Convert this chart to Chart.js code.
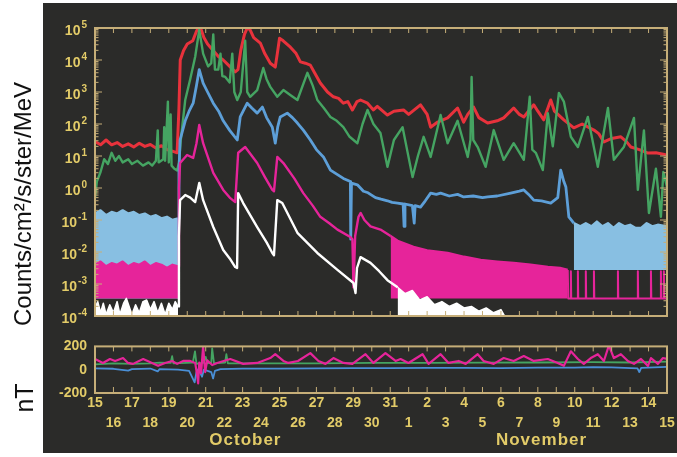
<!DOCTYPE html>
<html>
<head>
<meta charset="utf-8">
<script src="https://cdn.jsdelivr.net/npm/chart.js@4.4.1/dist/chart.umd.min.js"></script>
<style>
  html, body { margin: 0; padding: 0; background: #fff; }
  #page { position: relative; width: 677px; height: 457px; overflow: hidden; }
  #panel { position: absolute; left: 43px; top: 3px; width: 634px; height: 450px; background: #2b2b29; }
  #top { position: absolute; left: 0; top: 0; }
  #bottom { position: absolute; left: 0; top: 330px; }
</style>
</head>
<body>
<div id="page">
  <div id="panel"></div>
  <canvas id="top" width="677" height="330"></canvas>
  <canvas id="bottom" width="677" height="127"></canvas>
</div>
<script>
// x = days after 15 October 00:00, y = log10 of counts/cm2/s/ster/MeV
const redExp = [[0,1.45],[0.3,1.35],[0.6,1.5],[0.9,1.35],[1.2,1.42],[1.5,1.3],[1.8,1.38],[2.1,1.28],[2.4,1.4],[2.7,1.3],[3.0,1.36],[3.3,1.25],[3.6,1.32],[3.9,1.2],[4.2,1.15],[4.45,1.1],[4.55,2.5],[4.62,4.0],[4.8,4.3],[5.0,4.5],[5.3,4.6],[5.5,4.9],[5.6,5.0],[5.75,4.95],[5.9,4.7],[6.1,4.5],[6.4,4.3],[6.7,4.1],[6.95,4.0],[7.3,3.8],[7.6,3.63],[7.75,3.7],[7.9,4.3],[8.1,4.8],[8.25,5.0],[8.4,4.95],[8.6,4.7],[8.96,4.53],[9.2,4.2],[9.5,3.9],[9.77,3.78],[9.88,4.2],[10.0,4.68],[10.2,4.6],[10.59,4.4],[10.9,4.2],[11.13,3.94],[11.4,3.9],[11.67,3.84],[11.9,3.6],[12.21,3.28],[12.6,3.0],[12.92,2.85],[13.2,2.8],[13.46,2.65],[13.7,2.7],[13.95,2.44],[14.2,2.7],[14.39,2.75],[14.77,2.65],[15.09,2.44],[15.3,2.55],[15.85,2.28],[16.2,2.4],[16.72,2.44],[17.0,2.3],[17.64,2.6],[18.0,2.3],[18.19,1.9],[18.57,2.06],[19.11,2.19],[19.65,2.5],[19.98,2.06],[20.2,2.3],[20.52,2.53],[20.8,2.2],[21.28,2.03],[21.8,2.1],[22.15,2.19],[22.69,2.5],[23.0,2.3],[23.24,2.22],[23.78,2.6],[24.0,2.4],[24.32,2.13],[24.7,2.75],[24.9,2.4],[25.41,2.13],[25.95,1.88],[26.4,2.0],[27.04,1.81],[27.3,1.7],[27.58,1.44],[28.0,1.55],[28.5,1.6],[28.8,1.45],[29.04,1.28],[29.5,1.2],[29.97,1.09],[30.4,1.1],[31,1.03]];

const greenExp = [[0,-0.3],[0.1,0.2],[0.3,0.5],[0.5,0.9],[0.7,0.75],[0.9,1.1],[1.1,0.85],[1.3,1.0],[1.5,0.8],[1.8,0.9],[2.0,0.75],[2.3,0.85],[2.6,0.7],[2.9,0.8],[3.1,0.7],[3.3,0.85],[3.4,1.8],[3.45,0.8],[3.7,0.9],[3.75,1.9],[3.8,0.85],[3.95,2.7],[4.0,0.8],[4.1,2.3],[4.15,0.7],[4.3,0.6],[4.45,0.55],[4.55,0.8],[4.65,1.5],[4.89,2.75],[5.16,3.4],[5.43,4.1],[5.65,4.94],[5.86,4.2],[6.13,3.8],[6.3,3.9],[6.41,4.8],[6.5,3.7],[6.68,3.7],[6.8,4.2],[6.9,3.5],[7.06,3.47],[7.3,3.3],[7.44,4.2],[7.55,3.0],[7.71,2.75],[7.9,3.0],[8.14,4.6],[8.25,3.0],[8.41,2.85],[8.79,3.06],[9.12,3.75],[9.3,3.4],[9.5,3.16],[9.88,2.85],[10.21,3.06],[10.6,2.9],[10.97,2.75],[11.51,3.6],[11.8,3.2],[12.05,2.75],[12.4,2.5],[12.76,2.22],[13.1,2.1],[13.46,1.9],[13.8,1.6],[14.22,1.4],[14.5,2.0],[14.77,2.44],[15.09,2.0],[15.47,1.72],[15.85,0.66],[16.2,1.5],[16.67,1.9],[17.21,0.34],[17.5,1.0],[17.81,1.6],[18.19,0.97],[18.73,2.28],[19.11,1.4],[19.65,2.1],[20.2,0.97],[20.35,1.5],[20.41,3.47],[20.5,1.5],[20.74,1.28],[21.17,0.66],[21.61,1.81],[22.15,0.88],[22.69,1.4],[23.24,0.88],[23.56,2.85],[23.7,1.2],[23.89,1.1],[24.27,0.56],[24.54,2.34],[24.81,1.3],[25.14,2.97],[25.41,2.7],[25.79,1.6],[26.17,1.28],[26.71,2.22],[27.25,0.66],[27.8,2.5],[28.12,0.88],[28.66,1.28],[29.21,2.19],[29.42,-0.06],[29.75,1.8],[30.02,-0.78],[30.4,0.6],[30.67,-0.9],[30.8,0.5],[31,0.03]];

const blueQuietOct = [[0,-0.8],[0.3,-0.7],[0.6,-0.85],[0.9,-0.75],[1.2,-0.8],[1.5,-0.7],[1.8,-0.8],[2.1,-0.75],[2.4,-0.85],[2.7,-0.8],[3.0,-0.9],[3.3,-0.85],[3.6,-0.95],[3.9,-0.9],[4.2,-1.0],[4.5,-0.95]];
const blueEvent = [[4.5,-0.95],[4.55,0.5],[4.61,1.5],[4.89,2.1],[5.1,2.4],[5.32,2.65],[5.5,3.2],[5.65,3.7],[5.86,3.28],[6.1,3.0],[6.41,2.65],[6.7,2.4],[6.95,2.1],[7.3,1.8],[7.71,1.5],[7.8,1.9],[7.87,2.22],[8.25,2.65],[8.5,2.5],[8.79,2.34],[9.07,2.53],[9.3,2.2],[9.61,1.9],[9.77,1.4],[9.9,1.9],[10.04,2.22],[10.42,2.34],[10.7,2.2],[10.97,2.03],[11.3,1.8],[11.67,1.5],[12.0,1.2],[12.38,0.97],[12.76,0.56],[13.46,0.3],[13.84,0.2],[13.86,-1.6],[13.9,0.15],[14.22,0.1],[14.55,-0.1],[14.8,-0.15],[15.2,-0.3],[15.5,-0.35],[15.85,-0.4],[16.1,-0.45],[16.4,-0.47],[16.7,-0.5],[16.75,-1.2],[16.8,-0.5],[17.2,-0.55],[17.3,-1.1],[17.35,-0.55],[17.64,-0.6],[17.9,-0.4],[18.19,-0.16],[18.5,-0.2],[18.73,-0.16],[19.2,-0.25],[19.65,-0.2],[19.98,-0.28],[20.5,-0.25],[21.0,-0.3],[21.28,-0.28],[21.8,-0.25],[22.53,-0.16],[23.0,-0.1],[23.24,-0.06],[23.5,-0.2],[23.78,-0.38],[24.2,-0.4],[24.7,-0.47],[25.08,-0.3],[25.24,0.56],[25.41,0.2],[25.52,0.03],[25.68,-0.9],[25.95,-1.1]];
const blueQuietNov = [[25.95,-1.1],[26.3,-1.2],[26.6,-1.1],[26.9,-1.2],[27.2,-1.05],[27.5,-1.2],[27.8,-1.1],[28.1,-1.25],[28.4,-1.1],[28.7,-1.2],[29.0,-1.15],[29.3,-1.25],[29.6,-1.25],[29.9,-1.1],[30.2,-1.2],[30.5,-1.15],[31,-1.2]];

const magentaQuietOct = [[0,-2.4],[0.3,-2.3],[0.6,-2.45],[0.9,-2.35],[1.2,-2.4],[1.5,-2.3],[1.8,-2.45],[2.1,-2.35],[2.4,-2.4],[2.7,-2.3],[3.0,-2.45],[3.3,-2.35],[3.6,-2.4],[3.9,-2.5],[4.2,-2.4],[4.5,-2.45]];
const magentaEvent = [[4.5,-2.45],[4.55,0.0],[4.61,0.78],[4.99,1.03],[5.32,0.94],[5.5,1.4],[5.65,1.97],[5.86,1.4],[6.41,0.47],[6.95,-0.06],[7.3,-0.3],[7.6,-0.44],[7.76,1.1],[8.14,1.28],[8.79,0.78],[9.2,0.35],[9.61,-0.06],[9.7,-0.1],[9.88,0.97],[10.21,0.78],[10.8,0.3],[11.29,-0.16],[11.8,-0.55],[12.21,-0.9],[12.7,-1.1],[13.14,-1.3],[13.84,-1.53],[13.95,-1.6],[14.01,-3.1],[14.1,-1.5],[14.28,-0.9],[14.4,-0.78],[14.6,-1.0],[14.93,-1.2],[15.47,-1.3],[16.02,-1.5]];
const magentaDecay = [[16.02,-1.5],[16.4,-1.65],[17.26,-1.84],[18.0,-1.95],[19.11,-2.03],[20.0,-2.15],[20.9,-2.25],[21.8,-2.3],[22.69,-2.34],[23.6,-2.4],[24.54,-2.47],[25.2,-2.5],[25.62,-2.56]];
const magentaFloorNov = [[25.62,-2.56],[25.65,-3.45],[25.77,-3.45],[25.79,-2.6],[25.81,-3.45],[26.15,-3.45],[26.17,-2.6],[26.19,-3.45],[26.58,-3.45],[26.6,-2.6],[26.62,-3.45],[27.02,-3.45],[27.04,-2.6],[27.06,-3.45],[28.32,-3.45],[28.34,-2.6],[28.36,-3.45],[29.4,-3.45],[29.42,-2.6],[29.44,-3.45],[30.11,-3.45],[30.13,-2.6],[30.15,-3.45],[30.65,-3.45],[30.67,-2.6],[30.69,-3.45],[30.81,-3.45],[30.83,-2.6],[30.85,-3.45],[31,-3.45]];

const whiteQuietOct = [[0,-3.75],[0.15,-3.55],[0.3,-3.9],[0.45,-3.6],[0.6,-3.95],[0.8,-3.65],[1.0,-3.9],[1.2,-3.55],[1.35,-3.95],[1.55,-3.6],[1.7,-3.45],[1.85,-3.7],[2.0,-3.95],[2.2,-3.65],[2.4,-3.9],[2.6,-3.55],[2.8,-3.5],[3.0,-3.8],[3.2,-3.55],[3.4,-3.9],[3.6,-3.6],[3.8,-3.95],[4.0,-3.6],[4.2,-3.8],[4.35,-3.55],[4.5,-3.7]];
const whiteEvent = [[4.5,-3.7],[4.55,-1.5],[4.61,-0.38],[4.89,-0.22],[5.16,-0.3],[5.43,-0.44],[5.65,0.16],[5.86,-0.38],[6.41,-1.22],[6.95,-1.94],[7.3,-2.2],[7.6,-2.47],[7.7,-2.5],[7.76,-0.16],[8.03,-0.47],[8.79,-1.22],[9.3,-1.7],[9.61,-2.03],[9.7,-2.1],[9.88,-0.38],[10.15,-0.47],[10.97,-1.4],[12.05,-2.03],[13.14,-2.56],[14.01,-2.97],[14.12,-3.28],[14.2,-2.5],[14.39,-2.16],[14.93,-2.34],[15.4,-2.6],[15.85,-2.88],[16.4,-3.1]];
const whiteQuietNov = [[16.4,-3.1],[16.8,-3.3],[17.2,-3.2],[17.6,-3.5],[18.0,-3.4],[18.4,-3.65],[18.8,-3.55],[19.2,-3.7],[19.6,-3.6],[20.0,-3.75],[20.4,-3.7],[20.8,-3.85],[21.2,-3.75],[21.6,-3.9],[22.0,-3.8],[22.2,-4]];

// lower panel, nT
const magentaNT = [[0,92],[0.43,58],[0.81,92],[1.09,75],[1.52,100],[1.79,58],[2.06,50],[2.61,92],[3.09,58],[3.42,33],[3.8,58],[4.18,75],[4.45,50],[4.78,75],[5.16,75],[5.43,58],[5.54,-50],[5.59,-117],[5.65,60],[5.75,-30],[5.86,200],[5.97,-20],[6.08,80],[6.35,40],[6.62,58],[7.33,92],[8.03,50],[8.79,58],[9.5,100],[9.77,133],[10.21,75],[10.48,58],[11.0,75],[11.67,142],[12.11,75],[12.49,50],[12.92,100],[13.46,58],[13.95,50],[14.66,133],[15.09,58],[15.74,142],[16.29,75],[16.56,92],[16.99,58],[17.75,133],[18.08,50],[18.73,133],[19.16,58],[19.71,75],[20.09,50],[20.74,133],[21.06,75],[21.61,50],[22.15,100],[22.69,75],[23.24,117],[23.78,75],[24.54,92],[25.08,58],[25.41,33],[25.79,158],[26.17,92],[26.49,50],[26.87,100],[27.25,133],[27.58,75],[27.85,208],[28.12,100],[28.5,133],[28.88,75],[29.21,50],[29.59,92],[29.97,33],[30.13,100],[30.51,50],[30.78,100],[31,92]];
const greenNT = [[0,45],[1,55],[2,50],[3,55],[3.5,60],[4.1,58],[4.18,117],[4.25,55],[5.3,60],[5.42,158],[5.5,50],[5.9,60],[6.0,110],[6.1,55],[6.3,60],[6.35,183],[6.45,55],[7.05,60],[7.12,133],[7.2,55],[9,55],[12,55],[15,58],[18,58],[21,60],[24,62],[27,65],[29,62],[31,70]];
const blueNT = [[0,12],[1,8],[1.8,-8],[2,5],[3,10],[3.4,-15],[3.5,5],[4.5,0],[5.1,-10],[5.4,-108],[5.5,-20],[5.6,5],[5.8,-60],[5.9,0],[6.3,-20],[6.4,-75],[6.5,-10],[6.8,5],[8,10],[10,10],[12,12],[14,14],[16,14],[18,15],[20,16],[22,14],[24,17],[26,18],[27,22],[28,20],[29.4,12],[29.5,-20],[29.6,15],[31,25]];

// tick labels
const decadeExps = [5, 4, 3, 2, 1, 0, -1, -2, -3, -4];
const dayNumbers = [15,16,17,18,19,20,21,22,23,24,25,26,27,28,29,30,31,1,2,3,4,5,6,7,8,9,10,11,12,13,14,15];
const months = [["October", 8.15], ["November", 24.2]];
const topTitle = "Counts/cm²/s/ster/MeV";
const bottomTitle = "nT";

const FONT = "Arial, 'Liberation Sans', sans-serif";
const frameColor = "#c6ae78";
const labelColor = "#e2cb68";
const RED = "#e8323c", GREEN = "#45a462", BLUE = "#5d9fd8", BLUE_FILL = "#88bfe2", MAGENTA = "#e6249a";

const logPts = arr => arr.map(p => ({ x: p[0], y: Math.pow(10, p[1]) }));
const pts = arr => arr.map(p => ({ x: p[0], y: p[1] }));

function line(data, color, extra) {
    return Object.assign({
        data, borderColor: color, backgroundColor: color,
        borderWidth: 2.4, pointRadius: 0, fill: false,
        borderJoinStyle: "round", tension: 0
    }, extra || {});
}

const topDecor = {
    id: "topDecor",
    afterDatasetsDraw(chart) {
        const { ctx, chartArea: a, scales: { x, y } } = chart;
        ctx.save();
        ctx.strokeStyle = frameColor;
        ctx.lineWidth = 1;
        ctx.beginPath();
        for (let d = 0; d <= 31; d++) {
            const px = x.getPixelForValue(d);
            ctx.moveTo(px, a.top); ctx.lineTo(px, a.top + 5);
            ctx.moveTo(px, a.bottom); ctx.lineTo(px, a.bottom - 5);
        }
        for (let n = -4; n < 5; n++) {
            for (let k = 1; k < 10; k++) {
                const py = y.getPixelForValue(k * Math.pow(10, n));
                const len = k === 1 ? 7 : 3.5;
                ctx.moveTo(a.left, py); ctx.lineTo(a.left + len, py);
                ctx.moveTo(a.right, py); ctx.lineTo(a.right - len, py);
            }
        }
        ctx.stroke();
        ctx.lineWidth = 2;
        ctx.strokeRect(a.left, a.top, a.right - a.left, a.bottom - a.top);

        // 10^n labels
        ctx.fillStyle = labelColor;
        ctx.textAlign = "left";
        ctx.textBaseline = "middle";
        decadeExps.forEach(n => {
            const py = y.getPixelForValue(Math.pow(10, n));
            const exp = String(n);
            ctx.font = "bold 10px " + FONT;
            const wExp = ctx.measureText(exp).width;
            ctx.font = "bold 14px " + FONT;
            const wBase = ctx.measureText("10").width;
            const right = a.left - 8;
            ctx.fillText("10", right - wExp - wBase - 1, py + 3);
            ctx.font = "bold 10px " + FONT;
            ctx.fillText(exp, right - wExp, py - 3);
        });

        ctx.fillStyle = "#111";
        ctx.font = "24px " + FONT;
        ctx.textAlign = "center";
        ctx.translate(24, 204);
        ctx.rotate(-Math.PI / 2);
        ctx.fillText(topTitle, 0, 0);
        ctx.restore();
    }
};

const bottomDecor = {
    id: "bottomDecor",
    afterDatasetsDraw(chart) {
        const { ctx, chartArea: a, scales: { x } } = chart;
        ctx.save();
        ctx.strokeStyle = frameColor;
        ctx.lineWidth = 1;
        ctx.beginPath();
        for (let d = 0; d <= 31; d++) {
            const px = x.getPixelForValue(d);
            ctx.moveTo(px, a.top); ctx.lineTo(px, a.top + 5);
            ctx.moveTo(px, a.bottom); ctx.lineTo(px, a.bottom - 6);
        }
        ctx.stroke();
        ctx.lineWidth = 2;
        ctx.strokeRect(a.left, a.top, a.right - a.left, a.bottom - a.top);

        ctx.fillStyle = labelColor;
        ctx.font = "bold 17px " + FONT;
        ctx.letterSpacing = "1px";
        ctx.textAlign = "center";
        ctx.textBaseline = "middle";
        months.forEach(m => ctx.fillText(m[0], x.getPixelForValue(m[1]), 110));
        ctx.letterSpacing = "0px";

        ctx.fillStyle = "#111";
        ctx.font = "25px " + FONT;
        ctx.translate(26, 68);
        ctx.rotate(-Math.PI / 2);
        ctx.fillText(bottomTitle, 0, 0);
        ctx.restore();
    }
};

new Chart(document.getElementById("top"), {
    type: "line",
    data: {
        datasets: [
            line(logPts(whiteEvent), "#ffffff"),
            line(logPts(whiteQuietNov), "#ffffff", { fill: "start", borderWidth: 1.5 }),
            line(logPts(whiteQuietOct), "#ffffff", { fill: "start", borderWidth: 1.5 }),
            line(logPts(magentaEvent), MAGENTA),
            line(logPts(magentaDecay), MAGENTA, { fill: { value: Math.pow(10, -3.45) } }),
            line(logPts(magentaFloorNov), MAGENTA, { borderWidth: 2 }),
            line(logPts(magentaQuietOct), MAGENTA, { fill: { value: Math.pow(10, -3.45) } }),
            line(logPts(blueEvent), BLUE, { borderWidth: 2.8 }),
            line(logPts(blueQuietNov), BLUE_FILL, { fill: { value: Math.pow(10, -2.56) } }),
            line(logPts(blueQuietOct), BLUE_FILL, { fill: { value: Math.pow(10, -3.45) } }),
            line(logPts(greenExp), GREEN),
            line(logPts(redExp), RED, { borderWidth: 3 })
        ]
    },
    options: {
        responsive: false,
        animation: false,
        layout: { padding: { top: 28, right: 10, bottom: 14, left: 0 } },
        plugins: { legend: { display: false }, tooltip: { enabled: false } },
        scales: {
            x: { type: "linear", min: 0, max: 31, display: false },
            y: {
                type: "logarithmic", min: 1e-4, max: 1e5,
                ticks: { display: false },
                grid: { display: false, drawTicks: false },
                border: { display: false },
                afterFit: s => { s.width = 95; }
            }
        }
    },
    plugins: [topDecor]
});

new Chart(document.getElementById("bottom"), {
    type: "line",
    data: {
        datasets: [
            line(pts(magentaNT), MAGENTA, { borderWidth: 2.2 }),
            line(pts(greenNT), GREEN, { borderWidth: 1.8 }),
            line(pts(blueNT), "#4a8fd6", { borderWidth: 1.8 })
        ]
    },
    options: {
        responsive: false,
        animation: false,
        layout: { padding: { top: 16, right: 10, bottom: 0, left: 0 } },
        plugins: { legend: { display: false }, tooltip: { enabled: false } },
        scales: {
            x: {
                type: "linear", min: 0, max: 31,
                grid: { display: false, drawTicks: false },
                border: { display: false },
                ticks: {
                    stepSize: 1, autoSkip: false, maxRotation: 0, minRotation: 0,
                    maxTicksLimit: 40, padding: 0, color: labelColor,
                    font: { family: FONT, size: 14, weight: "bold", lineHeight: "20px" },
                    callback: v => {
                        const lbl = String(dayNumbers[v]);
                        return v % 2 === 0 ? [lbl, ""] : ["", lbl];
                    }
                },
                afterFit: s => { s.height = 64; }
            },
            y: {
                min: -200, max: 200,
                grid: { display: false, drawTicks: false },
                border: { display: false },
                ticks: {
                    stepSize: 200, padding: 8, color: labelColor,
                    font: { family: FONT, size: 14, weight: "bold" }
                },
                afterFit: s => { s.width = 95; }
            }
        }
    },
    plugins: [bottomDecor]
});
</script>
</body>
</html>
